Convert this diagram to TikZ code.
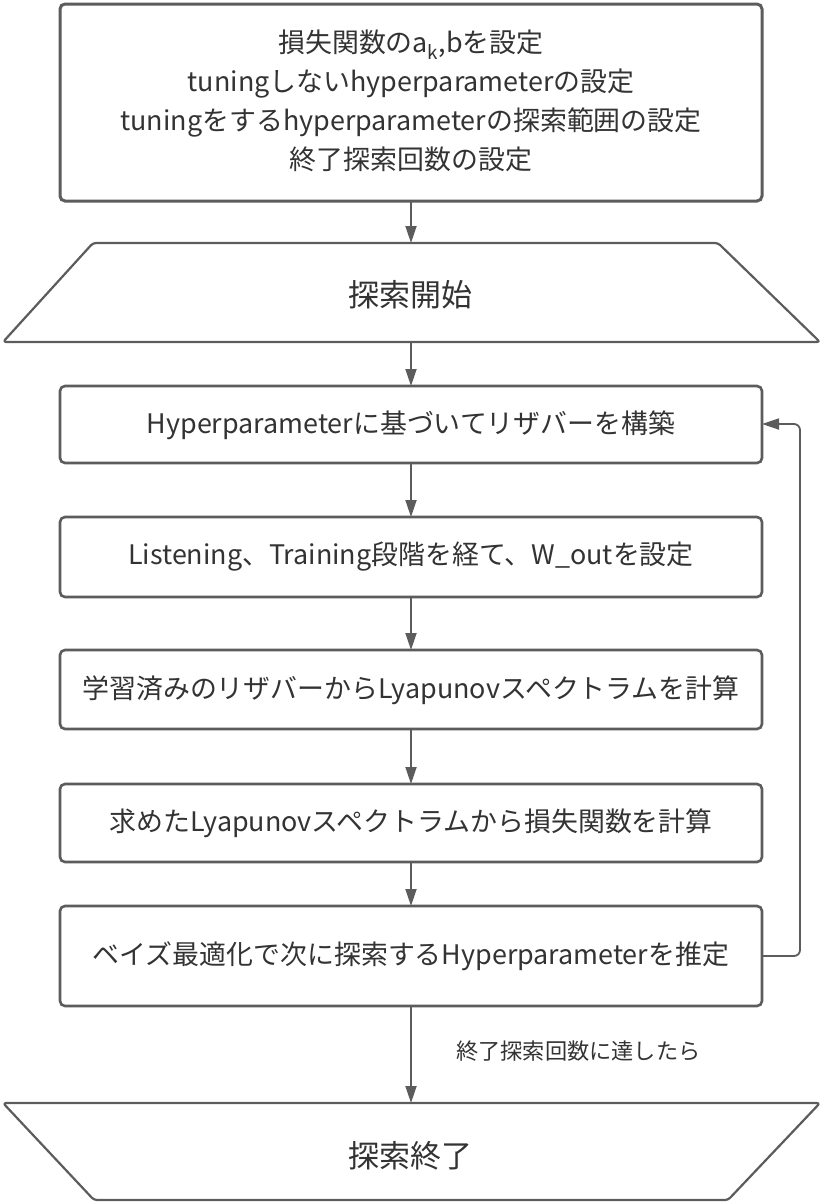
\documentclass[tikz,border=0pt]{standalone}
\usepackage{fontspec}
\setmainfont{Noto Sans CJK JP}
\usetikzlibrary{arrows.meta}
\definecolor{linegray}{HTML}{5C5C5C}
\definecolor{txtgray}{HTML}{333333}
\begin{document}
\begin{tikzpicture}[x=1pt,y=-1pt,
  boxstyle/.style={draw=linegray,line width=2.6pt,rounded corners=5pt,fill=white},
  trapstyle/.style={draw=linegray,line width=2.2pt,rounded corners=3pt,line join=round},
  txt/.style={text=txtgray,font=\fontsize{26.9}{39}\selectfont,align=center,inner sep=0pt},
  bigtxt/.style={text=txtgray,font=\fontsize{31}{36}\selectfont,inner sep=0pt},
  lbl/.style={text=txtgray,font=\fontsize{22.2}{26}\selectfont,inner sep=0pt,anchor=west},
  conn/.style={draw=linegray,line width=1.8pt,-{Triangle[length=17pt,width=11pt]}},
  loopline/.style={draw=linegray,line width=1.8pt,rounded corners=6pt,-{Triangle[length=17pt,width=11pt]}}]
\useasboundingbox (0,0) rectangle (823,1203);

% top box
\draw[boxstyle,line width=3pt] (60,4) rectangle (762,201);
\coordinate (b1s) at (411,201);
\node[txt] (b1) at (411,101) {損失関数のa\textsubscript{k},bを設定\\tuningしないhyperparameterの設定\\tuningをするhyperparameterの探索範囲の設定\\終了探索回数の設定};

% start trapezoid
\draw[trapstyle] (93,243) -- (718,243) -- (820,342) -- (3,342) -- cycle;
\coordinate (t1n) at (411,243);
\coordinate (t1s) at (411,342);
\node[bigtxt] (t1) at (410,295) {探索開始};

% process boxes
\draw[boxstyle] (60,386) rectangle (762,463);
\coordinate (b2n) at (411,386); \coordinate (b2s) at (411,463); \coordinate (b2e) at (762,424);
\node[txt] (b2) at (411,425) {Hyperparameterに基づいてリザバーを構築};

\draw[boxstyle] (60,517) rectangle (762,597);
\coordinate (b3n) at (411,517); \coordinate (b3s) at (411,597);
\node[txt] (b3) at (411,557) {Listening、Training段階を経て、W\_outを設定};

\draw[boxstyle] (60,650) rectangle (762,729);
\coordinate (b4n) at (411,650); \coordinate (b4s) at (411,729);
\node[txt] (b4) at (411,690) {学習済みのリザバーからLyapunovスペクトラムを計算};

\draw[boxstyle] (60,784) rectangle (762,862);
\coordinate (b5n) at (411,784); \coordinate (b5s) at (411,862);
\node[txt] (b5) at (411,823) {求めたLyapunovスペクトラムから損失関数を計算};

\draw[boxstyle] (60,906) rectangle (762,1006);
\coordinate (b6n) at (411,906); \coordinate (b6s) at (411,1006); \coordinate (b6e) at (762,956);
\node[txt] (b6) at (411,956) {ベイズ最適化で次に探索するHyperparameterを推定};

% end trapezoid
\draw[trapstyle] (3,1103) -- (820,1103) -- (728,1200) -- (94,1200) -- cycle;
\coordinate (t2n) at (411,1103);
\node[bigtxt] (t2) at (410,1156) {探索終了};

% connectors
\draw[conn] (b1s) -- (t1n);
\draw[conn] (t1s) -- (b2n);
\draw[conn] (b2s) -- (b3n);
\draw[conn] (b3s) -- (b4n);
\draw[conn] (b4s) -- (b5n);
\draw[conn] (b5s) -- (b6n);
\draw[conn] (b6s) -- (t2n);
\draw[loopline] (b6e) -- (800,956) -- (800,424) -- (b2e);
\node[lbl] (endlbl) at (456,1051) {終了探索回数に達したら};
\end{tikzpicture}
\end{document}
